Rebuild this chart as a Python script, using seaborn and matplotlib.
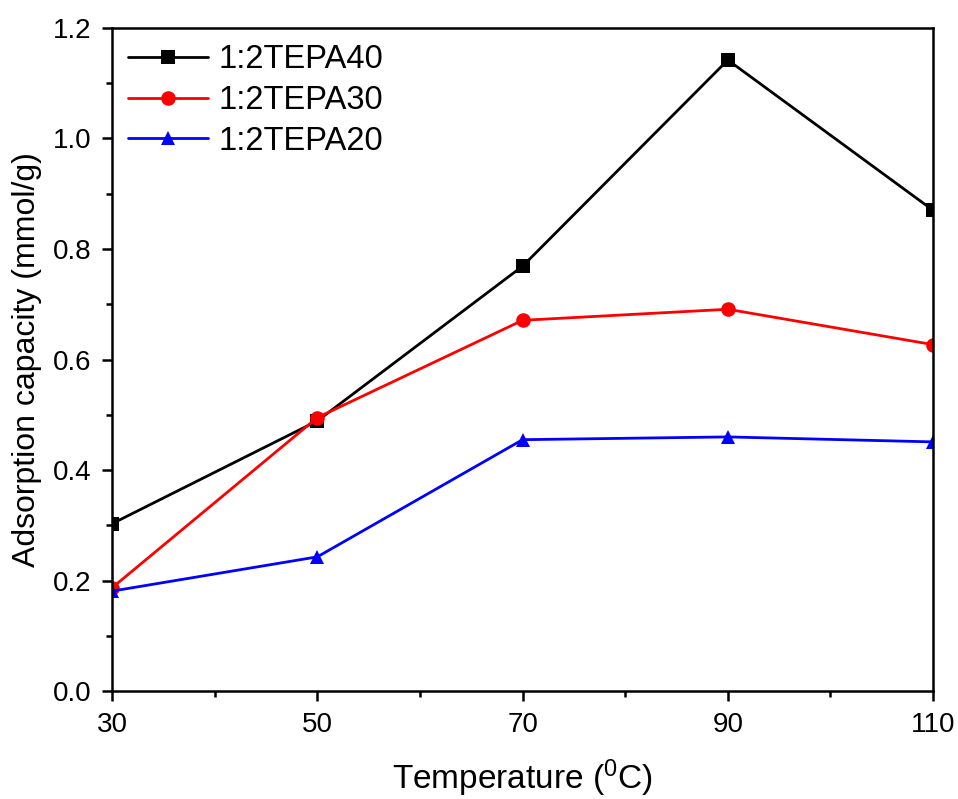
import pandas as pd
import matplotlib
matplotlib.use("Agg")
import matplotlib.pyplot as plt
import seaborn as sns
from matplotlib.ticker import FixedLocator, MultipleLocator, FormatStrFormatter

temperature = [30, 50, 70, 90, 110]
tepa40 = [0.303, 0.489, 0.769, 1.142, 0.870]
tepa30 = [0.187, 0.495, 0.671, 0.691, 0.627]
tepa20 = [0.181, 0.243, 0.455, 0.460, 0.451]
series_names = ["1:2TEPA40", "1:2TEPA30", "1:2TEPA20"]
x_ticks = [30, 50, 70, 90, 110]
x_minor = [40, 60, 80, 100]

df = pd.DataFrame({
    "Temperature": temperature * 3,
    "Capacity": tepa40 + tepa30 + tepa20,
    "Sample": [n for n in series_names for _ in temperature],
})

sns.set_style("ticks")
plt.rcParams["font.family"] = ["Liberation Sans", "DejaVu Sans"]
plt.rcParams["text.color"] = "black"
plt.rcParams["axes.labelcolor"] = "black"
plt.rcParams["xtick.color"] = "black"
plt.rcParams["ytick.color"] = "black"
plt.rcParams["axes.edgecolor"] = "black"

fig = plt.figure(figsize=(9.58, 7.99), dpi=100)
ax = fig.add_axes([0.117, 0.135, 0.857, 0.830])

sns.lineplot(
    data=df, x="Temperature", y="Capacity", hue="Sample", style="Sample",
    palette=["black", "red", "blue"], markers=["s", "o", "^"], dashes=False,
    markersize=10.5, markeredgewidth=0, linewidth=2.0, ax=ax,
)

ax.set_xlim(30, 110)
ax.set_ylim(0, 1.2)
ax.xaxis.set_major_locator(FixedLocator(x_ticks))
ax.xaxis.set_minor_locator(FixedLocator(x_minor))
ax.yaxis.set_major_locator(MultipleLocator(0.2))
ax.yaxis.set_minor_locator(MultipleLocator(0.1))
ax.yaxis.set_major_formatter(FormatStrFormatter("%.1f"))
ax.tick_params(which="major", direction="out", length=7, width=1.8, labelsize=20, pad=8, top=False, right=False)
ax.tick_params(which="minor", direction="out", length=4, width=1.8, top=False, right=False)
for s in ax.spines.values():
    s.set_linewidth(1.8)
    s.set_visible(True)

ax.set_xlabel("Temperature ($\\mathregular{^{0}}$C)", fontsize=24, labelpad=14)
ax.set_ylabel("Adsorption capacity (mmol/g)", fontsize=23, labelpad=8)

leg = ax.legend(loc="upper left", frameon=False, fontsize=23.5, handlelength=2.45,
                borderaxespad=0.1, labelspacing=0.3, handletextpad=0.3)
for h in leg.legend_handles:
    h.set_markersize(10.5)
    h.set_linewidth(2.0)

fig.savefig("out.png", dpi=100)
